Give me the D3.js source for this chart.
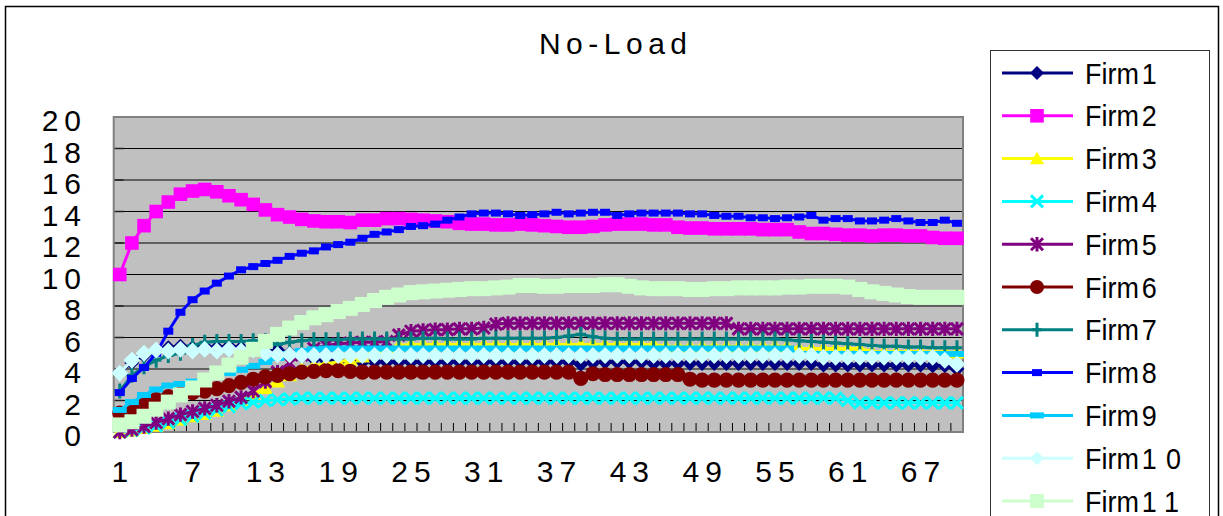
<!DOCTYPE html>
<html><head><meta charset="utf-8">
<script src="https://cdn.jsdelivr.net/npm/d3@7"></script>
<style>body{margin:0;background:#fff;overflow:hidden}svg{display:block}</style>
</head><body>
<svg id="chart" width="1223" height="516"></svg>
<script>
const title = "No-Load";
const categories = d3.range(1, 71);
const xTickLabels = [1, 7, 13, 19, 25, 31, 37, 43, 49, 55, 61, 67];
const yTickValues = [0, 2, 4, 6, 8, 10, 12, 14, 16, 18, 20];
const seriesNames = ["Firm1","Firm2","Firm3","Firm4","Firm5","Firm6","Firm7","Firm8","Firm9","Firm10","Firm11"];

const firm1 = [3.8,4.4,4.85,5.2,5.35,5.45,5.35,5.45,5.35,5.45, 5.35,5.45,5.3,5.2,5.0,4.8,4.65,4.55,4.5,4.45, 4.45,4.45,4.45,4.45,4.45,4.45,4.45,4.45,4.45,4.45, 4.45,4.45,4.45,4.45,4.45,4.45,4.45,4.45,4.3,4.4, 4.45,4.45,4.45,4.45,4.35,4.35,4.35,4.35,4.35,4.35, 4.35,4.35,4.35,4.35,4.35,4.35,4.35,4.35,4.25,4.25, 4.25,4.25,4.25,4.25,4.25,4.25,4.25,4.2,4.2,4.0];
const firm2 = [10.0,12.0,13.1,14.0,14.6,15.1,15.3,15.4,15.25,15.0, 14.75,14.45,14.1,13.8,13.65,13.5,13.4,13.35,13.35,13.3, 13.45,13.45,13.55,13.55,13.5,13.45,13.4,13.35,13.25,13.2, 13.2,13.15,13.15,13.2,13.15,13.1,13.05,13.0,13.0,13.05, 13.15,13.2,13.2,13.2,13.15,13.15,13.0,12.95,12.95,12.9, 12.9,12.9,12.9,12.85,12.85,12.85,12.7,12.6,12.6,12.55, 12.5,12.5,12.45,12.5,12.5,12.45,12.45,12.35,12.3,12.3];
const firm3 = [0,0.1,0.25,0.4,0.55,0.8,1.0,1.15,1.35,1.7, 2.05,2.4,2.8,3.2,3.6,4.0,4.2,4.35,4.45,4.6, 4.8,5.1,5.35,5.5,5.55,5.55,5.55,5.55,5.55,5.55, 5.55,5.55,5.55,5.55,5.55,5.55,5.55,5.55,5.55,5.55, 5.55,5.55,5.55,5.55,5.55,5.45,5.45,5.45,5.45,5.45, 5.45,5.45,5.45,5.45,5.45,5.45,5.3,5.3,5.3,5.3, 5.3,5.3,5.1,5.1,5.1,5.1,5.1,5.1,5.1,5.05];
const firm4 = [0,0.1,0.25,0.4,0.6,0.8,1.0,1.2,1.4,1.6, 1.8,1.9,2.0,2.05,2.1,2.15,2.15,2.15,2.15,2.15, 2.15,2.15,2.15,2.15,2.15,2.15,2.15,2.15,2.15,2.15, 2.15,2.15,2.15,2.15,2.15,2.15,2.15,2.15,2.15,2.15, 2.15,2.15,2.15,2.15,2.15,2.15,2.15,2.15,2.15,2.15, 2.15,2.15,2.15,2.15,2.15,2.15,2.15,2.15,2.15,2.15, 2.0,1.85,1.85,1.85,1.85,1.85,1.85,1.85,1.85,1.85];
const firm5 = [0,0.15,0.35,0.6,0.85,1.1,1.3,1.5,1.7,1.95, 2.2,2.6,3.2,3.8,4.4,4.9,5.3,5.5,5.6,5.65, 5.7,5.7,5.75,6.15,6.4,6.45,6.5,6.5,6.55,6.55, 6.6,6.85,6.9,6.9,6.9,6.9,6.9,6.9,6.9,6.9, 6.9,6.9,6.9,6.9,6.9,6.9,6.9,6.9,6.9,6.9, 6.9,6.55,6.55,6.55,6.55,6.55,6.55,6.55,6.55,6.55, 6.55,6.55,6.55,6.55,6.55,6.55,6.55,6.55,6.55,6.55];
const firm6 = [1.2,1.5,1.8,2.05,2.25,2.4,2.5,2.6,2.75,2.95, 3.15,3.35,3.5,3.6,3.7,3.8,3.85,3.9,3.9,3.85, 3.8,3.8,3.8,3.8,3.8,3.8,3.8,3.8,3.8,3.8, 3.8,3.8,3.8,3.8,3.8,3.8,3.8,3.8,3.4,3.7, 3.65,3.65,3.65,3.65,3.65,3.65,3.65,3.35,3.3,3.3, 3.3,3.3,3.3,3.3,3.3,3.3,3.3,3.3,3.3,3.3, 3.3,3.3,3.3,3.3,3.3,3.3,3.3,3.3,3.3,3.3];
const firm7 = [2.6,3.6,4.15,4.55,4.85,5.0,5.5,5.7,5.75,5.75, 5.75,5.8,5.8,5.55,5.7,5.8,5.85,5.85,5.85,5.9, 5.9,5.9,5.9,5.9,5.9,5.95,5.95,5.9,5.9,5.9, 5.95,5.95,5.95,5.95,5.95,5.95,6.0,6.1,6.2,6.05, 5.95,5.9,5.9,5.9,5.9,5.9,5.9,5.9,5.9,5.9, 5.9,5.9,5.9,5.9,5.9,5.85,5.8,5.75,5.7,5.65, 5.6,5.55,5.5,5.45,5.45,5.4,5.4,5.35,5.35,5.35];
const firm8 = [2.5,3.4,4.1,5.0,6.4,7.6,8.4,8.95,9.45,9.9, 10.3,10.5,10.7,10.9,11.15,11.35,11.5,11.75,11.9,12.05, 12.3,12.55,12.7,12.85,13.05,13.1,13.2,13.45,13.65,13.85, 13.9,13.9,13.85,13.75,13.8,13.85,13.95,13.85,13.9,13.95, 13.95,13.75,13.85,13.9,13.9,13.9,13.9,13.85,13.85,13.75, 13.7,13.7,13.6,13.6,13.55,13.6,13.65,13.75,13.45,13.55, 13.55,13.4,13.4,13.45,13.55,13.4,13.3,13.3,13.45,13.25];
const firm9 = [1.4,1.9,2.35,2.7,2.95,3.05,3.2,3.4,3.55,3.75, 3.95,4.2,4.45,4.7,4.95,5.15,5.25,5.3,5.3,5.3, 5.3,5.3,5.3,5.3,5.3,5.3,5.3,5.3,5.3,5.3, 5.3,5.3,5.3,5.3,5.3,5.3,5.3,5.3,5.3,5.3, 5.3,5.3,5.3,5.3,5.3,5.3,5.3,5.3,5.3,5.3, 5.3,5.3,5.3,5.3,5.3,5.3,4.95,4.95,4.95,4.95, 4.95,4.95,4.95,4.95,4.95,4.95,4.95,4.95,4.95,4.95];
const firm10 = [3.75,4.55,5.0,5.2,5.15,5.25,5.15,5.25,5.15,5.25, 5.15,5.2,5.0,4.9,4.9,4.85,4.85,4.85,4.85,4.85, 4.85,4.85,4.85,4.85,4.85,4.85,4.85,4.85,4.85,4.85, 4.85,4.85,4.85,4.85,4.85,4.85,4.85,4.85,4.85,4.85, 4.85,4.85,4.85,4.85,4.85,4.85,4.85,4.85,4.85,4.85, 4.85,4.85,4.85,4.85,4.85,4.85,4.85,4.85,4.75,4.75, 4.75,4.75,4.75,4.75,4.75,4.75,4.75,4.75,4.55,4.3];
const firm11 = [0.45,0.65,1.0,1.45,1.9,2.35,2.8,3.3,3.75,4.25, 4.75,5.25,5.75,6.2,6.6,6.95,7.25,7.45,7.65,7.85, 8.1,8.35,8.55,8.7,8.85,8.9,8.95,9.0,9.05,9.1, 9.1,9.15,9.2,9.3,9.3,9.25,9.25,9.3,9.3,9.3, 9.35,9.35,9.25,9.15,9.1,9.1,9.1,9.05,9.05,9.1, 9.1,9.15,9.15,9.15,9.15,9.2,9.2,9.25,9.25,9.25, 9.2,9.05,8.9,8.8,8.7,8.6,8.55,8.55,8.55,8.55];

const seriesValues = [firm1, firm2, firm3, firm4, firm5, firm6, firm7, firm8, firm9, firm10, firm11];

const styles = [
  {color:"#000080", m:"diamond", s:7.5},
  {color:"#FF00FF", m:"square", s:6.8},
  {color:"#FFFF00", m:"triangle", s:7.5},
  {color:"#00FFFF", m:"x", s:6},
  {color:"#800080", m:"asterisk", s:6},
  {color:"#800000", m:"circle", s:7.6},
  {color:"#008080", m:"plus", s:7.5},
  {color:"#0000FF", m:"rect", w:10, h:7},
  {color:"#00CCFF", m:"rect", w:14, h:6},
  {color:"#CCFFFF", m:"diamond", s:8.5},
  {color:"#CCFFCC", m:"square", s:7.5}
];

const svg = d3.select("#chart");
const FONT = "'Liberation Sans', Arial, sans-serif";
const plot = {left: 113.7, right: 963, top: 117, bottom: 432};

// outer border
svg.append("rect").attr("x", 5.5).attr("y", 6.5).attr("width", 1213).attr("height", 600)
  .attr("fill", "#fff").attr("stroke", "#000").attr("stroke-width", 1.5);

const x = d3.scaleBand().domain(categories).range([plot.left, plot.right]).paddingInner(0).paddingOuter(0);
const cx = d => x(d) + x.bandwidth() / 2;
const y = d3.scaleLinear().domain([0, 20]).range([plot.bottom, plot.top]);

// title
svg.append("text").attr("x", 613 + 2.75).attr("y", 53.5).attr("text-anchor", "middle")
  .attr("font-family", FONT).attr("font-size", 30).attr("letter-spacing", 5.5)
  .attr("fill", "#000").text(title);

// plot area
svg.append("rect").attr("x", plot.left).attr("y", plot.top)
  .attr("width", plot.right - plot.left).attr("height", plot.bottom - plot.top)
  .attr("fill", "#C0C0C0");

// gridlines
svg.append("g").selectAll("line").data(yTickValues.filter(v => v > 0 && v < 20)).join("line")
  .attr("x1", plot.left).attr("x2", plot.right)
  .attr("y1", d => y(d)).attr("y2", d => y(d))
  .attr("stroke", "#000").attr("stroke-width", 1);

// y axis tick marks (inside)
svg.append("g").selectAll("line").data(yTickValues).join("line")
  .attr("x1", plot.left).attr("x2", plot.left + 10)
  .attr("y1", d => y(d)).attr("y2", d => y(d))
  .attr("stroke", "#222").attr("stroke-width", 1.5);

// x tick marks at category boundaries
const boundaries = categories.map(c => x(c)).concat([plot.right]);
svg.append("g").selectAll("line").data(boundaries).join("line")
  .attr("x1", d => d).attr("x2", d => d)
  .attr("y1", plot.bottom - 9).attr("y2", plot.bottom)
  .attr("stroke", "#000").attr("stroke-width", 1);

// plot border
svg.append("rect").attr("x", plot.left).attr("y", plot.top)
  .attr("width", plot.right - plot.left).attr("height", plot.bottom - plot.top)
  .attr("fill", "none").attr("stroke", "#808080").attr("stroke-width", 2);

// y labels
svg.append("g").selectAll("text").data(yTickValues).join("text")
  .attr("x", 87).attr("y", d => y(d) + 14).attr("text-anchor", "end")
  .attr("font-family", FONT).attr("font-size", 30).attr("letter-spacing", 6)
  .attr("fill", "#000").text(d => d);

// x labels
const xAxis = d3.axisBottom(x).tickValues(xTickLabels).tickSize(0).tickPadding(0);
const xg = svg.append("g").attr("transform", `translate(0,${plot.bottom})`).call(xAxis);
xg.select(".domain").remove();
xg.selectAll("text").attr("font-family", FONT).attr("font-size", 30)
  .attr("letter-spacing", 6).attr("fill", "#000").attr("dy", null).attr("y", 50)
  .attr("dx", 3);

function markerPath(st) {
  const s = st.s;
  switch (st.m) {
    case "diamond": return `M0,${-s}L${s},0L0,${s}L${-s},0Z`;
    case "square": return `M${-s},${-s}H${s}V${s}H${-s}Z`;
    case "triangle": return `M0,${-s}L${s},${s*0.8}L${-s},${s*0.8}Z`;
    case "x": return `M${-s},${-s}L${s},${s}M${-s},${s}L${s},${-s}`;
    case "asterisk": return `M${-s},${-s}L${s},${s}M${-s},${s}L${s},${-s}M0,${-s*1.2}V${s*1.2}`;
    case "plus": return `M${-s*0.7},0H${s*0.7}M0,${-s}V${s}`;
    case "rect": return `M${-st.w/2},${-st.h/2}H${st.w/2}V${st.h/2}H${-st.w/2}Z`;
    default: return "";
  }
}
function drawMarker(g, st) {
  if (st.m === "circle") {
    g.append("circle").attr("r", st.s).attr("fill", st.color);
  } else {
    const stroked = ["x", "asterisk", "plus"].includes(st.m);
    g.append("path").attr("d", markerPath(st))
      .attr("fill", stroked ? "none" : st.color)
      .attr("stroke", stroked ? st.color : "none")
      .attr("stroke-width", stroked ? 3 : 0);
  }
}

const line = d3.line().x((d, i) => cx(categories[i])).y(d => y(d));
const series = svg.append("g");
seriesValues.forEach((vals, si) => {
  const st = styles[si];
  const g = series.append("g");
  g.append("path").attr("d", line(vals)).attr("fill", "none")
    .attr("stroke", st.color).attr("stroke-width", 3).attr("stroke-linejoin", "round");
  vals.forEach((v, i) => {
    const mg = g.append("g").attr("transform", `translate(${cx(categories[i])},${y(v)})`);
    drawMarker(mg, st);
  });
});

// legend
const lg = svg.append("g");
lg.append("rect").attr("x", 990.5).attr("y", 50.5).attr("width", 219).attr("height", 500)
  .attr("fill", "#fff").attr("stroke", "#333").attr("stroke-width", 1);
const legendY = d3.scaleLinear().domain([0, 10]).range([73, 501]);
const legendStyles = styles.map(st => Object.assign({}, st, st.m === "rect" ? {w: st.w, h: st.h} : {s: Math.min(st.s, 7)}));
seriesNames.forEach((name, i) => {
  const st = legendStyles[i];
  const yy = legendY(i);
  lg.append("line").attr("x1", 1002).attr("x2", 1073).attr("y1", yy).attr("y2", yy)
    .attr("stroke", st.color).attr("stroke-width", 3);
  const mg = lg.append("g").attr("transform", `translate(1037,${yy})`);
  drawMarker(mg, st);
  const t = lg.append("text").attr("transform", `translate(1085,${yy + 10.5}) scale(0.93,1)`)
    .attr("font-family", FONT).attr("font-size", 29).attr("fill", "#000");
  const m = name.match(/^(\D+)(\d+)$/);
  t.append("tspan").text(m[1]);
  t.append("tspan").attr("dx", 3).attr("letter-spacing", 10).text(m[2]);
});
</script>
</body></html>
